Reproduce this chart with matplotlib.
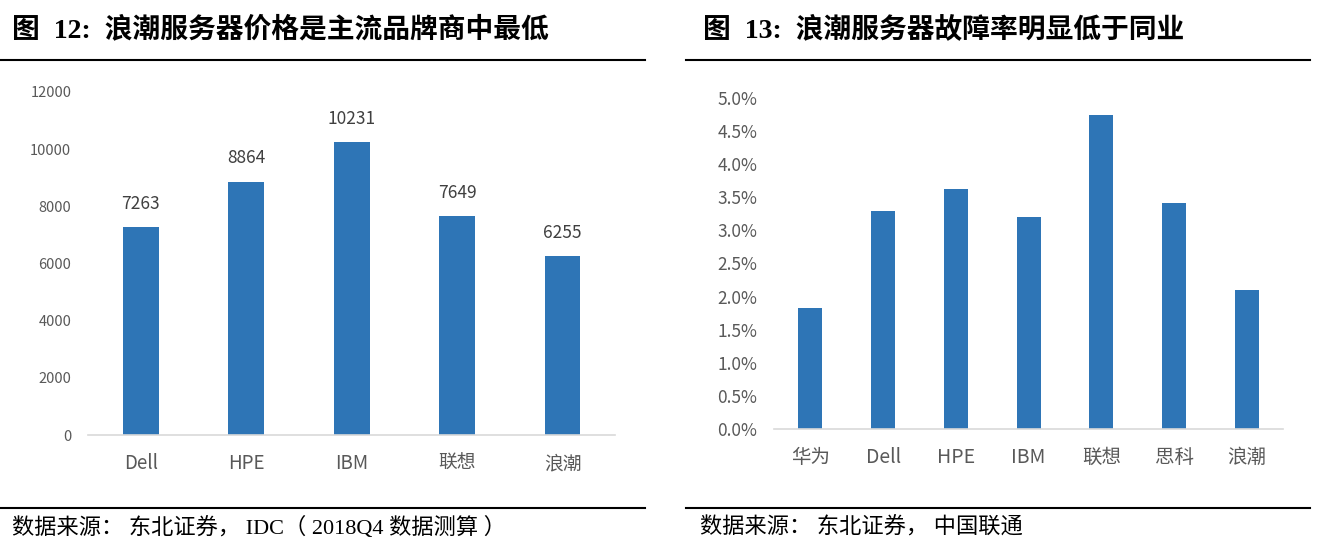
import matplotlib.pyplot as plt
import numpy as np
from matplotlib.ticker import FuncFormatter

plt.rcParams['font.family'] = ['Noto Sans CJK SC', 'DejaVu Sans']

# 图12 数据
brands1 = ['Dell', 'HPE', 'IBM', '联想', '浪潮']
price = [7263, 8864, 10231, 7649, 6255]

# 图13 数据
brands2 = ['华为', 'Dell', 'HPE', 'IBM', '联想', '思科', '浪潮']
fail_rate = [0.0183, 0.0329, 0.0363, 0.0320, 0.0474, 0.0341, 0.0210]

bar_color = '#2E75B6'
tick_color = '#595959'
title_font = ['Liberation Serif', 'Noto Sans CJK SC']

fig = plt.figure(figsize=(13.23, 5.5), dpi=100)

# 标题和分隔线
fig.text(12 / 1323, 1 - 30 / 550, '图  12:  浪潮服务器价格是主流品牌商中最低', fontsize=20,
         fontweight='bold', family=title_font, va='center', ha='left')
fig.text(703 / 1323, 1 - 30 / 550, '图  13:  浪潮服务器故障率明显低于同业', fontsize=20,
         fontweight='bold', family=title_font, va='center', ha='left')
fig.add_artist(plt.Line2D([0, 645 / 1323], [1 - 60 / 550] * 2, color='k', lw=1.5))
fig.add_artist(plt.Line2D([686 / 1323, 1310 / 1323], [1 - 60 / 550] * 2, color='k', lw=1.5))
fig.add_artist(plt.Line2D([0, 645 / 1323], [1 - 508 / 550] * 2, color='k', lw=1.5))
fig.add_artist(plt.Line2D([686 / 1323, 1310 / 1323], [1 - 508 / 550] * 2, color='k', lw=1.5))
fig.text(12 / 1323, 1 - 528 / 550, '数据来源： 东北证券， IDC（ 2018Q4 数据测算 ）', fontsize=16,
         family=['Liberation Serif', 'Noto Sans CJK SC'], va='center', ha='left')
fig.text(700 / 1323, 1 - 528 / 550, '数据来源： 东北证券， 中国联通', fontsize=16,
         family=['Liberation Serif', 'Noto Sans CJK SC'], va='center', ha='left')

# 左图
ax1 = fig.add_axes([0.0665, 0.209, 0.3985, 0.624])
x1 = np.arange(len(brands1))
bars = ax1.bar(x1, price, width=0.34, color=bar_color)
for b, v in zip(bars, price):
    ax1.text(b.get_x() + b.get_width() / 2, v + 500, str(v), ha='center', va='bottom',
             fontsize=12.5, color='#404040')
ax1.set_xlim(-0.5, 4.5)
ax1.set_ylim(0, 12000)
ax1.set_yticks(np.arange(0, 12001, 2000))
ax1.set_xticks(x1)
ax1.set_xticklabels(brands1, fontsize=13.5)

# 右图
ax2 = fig.add_axes([0.585, 0.22, 0.385, 0.602])
x2 = np.arange(len(brands2))
ax2.bar(x2, fail_rate, width=0.33, color=bar_color)
ax2.set_xlim(-0.5, 6.5)
ax2.set_ylim(0, 0.05)
ax2.set_yticks(np.arange(0, 0.0501, 0.005))
ax2.yaxis.set_major_formatter(FuncFormatter(lambda v, p: '%.1f%%' % (v * 100)))
ax2.set_xticks(x2)
ax2.set_xticklabels(brands2, fontsize=14)

for ax in (ax1, ax2):
    for s in ['top', 'right', 'left']:
        ax.spines[s].set_visible(False)
    ax.spines['bottom'].set_color('#D9D9D9')
    ax.spines['bottom'].set_linewidth(1.2)
    ax.tick_params(axis='both', length=0, colors=tick_color)
    ax.tick_params(axis='x', pad=13)
    ax.tick_params(axis='y', pad=12)
ax1.tick_params(axis='y', labelsize=10.5)
ax2.tick_params(axis='y', labelsize=12.5)

plt.savefig('out.png', dpi=100)
